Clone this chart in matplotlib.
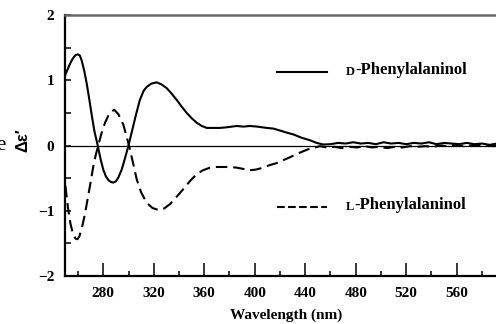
import numpy as np
import matplotlib
matplotlib.use('Agg')
import matplotlib.pyplot as plt
from matplotlib.ticker import MultipleLocator, FixedLocator

# values
wl_d = [250, 252, 254, 256, 258, 260, 261.5, 263, 265, 267, 269, 271, 273, 275.6, 278, 280,
        282, 284, 286, 288, 290, 292, 294.6, 297, 300, 303, 306, 309, 312, 314.4, 318,
        322.3, 326, 330.3, 334, 338.2, 342, 346.1, 350, 354, 358, 362, 367, 372.5, 378,
        385.7, 391, 396.3, 402, 409.5, 414.7, 420, 425, 430.6, 437, 443.8, 449, 454.4,
        460, 466, 472, 478, 484, 490, 496, 502, 508, 514, 520, 526, 532, 538, 544, 550,
        556, 562, 568, 574, 580, 586, 592, 600]
de_d = [1.09, 1.18, 1.27, 1.34, 1.39, 1.40, 1.38, 1.30, 1.14, 0.94, 0.70, 0.45, 0.22, 0.00,
        -0.22, -0.37, -0.47, -0.53, -0.56, -0.57, -0.55, -0.49, -0.37, -0.21, 0.00, 0.24,
        0.48, 0.70, 0.84, 0.90, 0.95, 0.97, 0.94, 0.88, 0.80, 0.70, 0.60, 0.50, 0.42,
        0.35, 0.30, 0.27, 0.27, 0.27, 0.28, 0.30, 0.29, 0.30, 0.29, 0.27, 0.26, 0.23,
        0.20, 0.17, 0.12, 0.08, 0.04, 0.015, 0.02, 0.04, 0.03, 0.05, 0.03, 0.04, 0.02,
        0.05, 0.03, 0.04, 0.02, 0.04, 0.03, 0.05, 0.02, 0.04, 0.03, 0.02, 0.04, 0.02,
        0.03, 0.01, 0.03, 0.02]

wl_l = [250, 252, 254, 256, 258, 259.5, 261, 263, 265.5, 268, 270, 272.1, 274, 276, 278.5,
        281.4, 285, 288.7, 292, 295.9, 300.4, 303.5, 306.5, 310, 314.4, 319, 323.6, 328,
        332.9, 338, 343.4, 349, 354, 359, 364.6, 370, 375.1, 380, 385.7, 391, 396.3, 401,
        406.8, 412, 417.4, 422, 428, 435.7, 442, 448, 451.6, 457, 463, 469, 475, 481,
        487, 493, 499, 505, 511, 517, 523, 529, 535, 541, 547, 553, 559, 565, 571, 577,
        583, 589, 595, 600]
de_l = [-0.62, -0.95, -1.20, -1.36, -1.43, -1.44, -1.40, -1.27, -1.05, -0.78, -0.56, -0.32,
        -0.15, 0.00, 0.18, 0.35, 0.50, 0.55, 0.48, 0.32, 0.00, -0.26, -0.52, -0.72,
        -0.88, -0.96, -0.99, -0.97, -0.90, -0.79, -0.67, -0.54, -0.44, -0.38, -0.34,
        -0.33, -0.33, -0.33, -0.34, -0.36, -0.38, -0.37, -0.34, -0.30, -0.27, -0.23,
        -0.18, -0.11, -0.06, -0.03, -0.01, -0.03, -0.02, -0.04, -0.02, -0.03, -0.01,
        -0.03, -0.02, -0.04, -0.02, -0.03, -0.01, -0.02, -0.01, -0.02, 0.00, -0.01,
        0.01, -0.01, 0.00, 0.01, 0.00, -0.01, 0.00, 0.00]

labels = ['D', 'L']
names = ['-Phenylalaninol', '-Phenylalaninol']

fig = plt.figure(figsize=(4.96, 3.24), dpi=100)
ax = fig.add_axes([65.4 / 496, 48.3 / 324, 441.8 / 496, 260.4 / 324])

serif = 'Liberation Serif'

ax.axhline(0, color='black', lw=0.9, zorder=1)
h_d, = ax.plot(wl_d, de_d, color='black', lw=1.5, solid_joinstyle='round')
h_l, = ax.plot(wl_l, de_l, color='black', lw=1.5, linestyle=(0, (5.5, 2.8)))

ax.set_xlim(250, 600)
ax.set_ylim(-2, 2)
ax.xaxis.set_major_locator(FixedLocator(np.arange(280, 561, 40)))
ax.xaxis.set_minor_locator(FixedLocator(np.arange(260, 581, 40)))
ax.yaxis.set_major_locator(MultipleLocator(1))
ax.yaxis.set_minor_locator(MultipleLocator(0.5))

ax.tick_params(axis='x', which='major', direction='in', length=9.5, width=1.1, pad=8)
ax.tick_params(axis='x', which='minor', direction='in', length=3.8, width=1.1)
ax.tick_params(axis='y', which='both', direction='in', length=4.5, width=1.1, pad=8)
for lab in ax.get_xticklabels() + ax.get_yticklabels():
    lab.set_fontfamily(serif)
    lab.set_fontweight('bold')
    lab.set_fontsize(11)

for side in ['left', 'bottom']:
    ax.spines[side].set_linewidth(1.6)
ax.spines['top'].set_linewidth(1.8)
ax.spines['top'].set_color('0.4')
ax.spines['right'].set_visible(False)

ax.set_xlabel('Wavelength (nm)', fontfamily=serif, fontweight='bold', fontsize=11, labelpad=6)

# y label fragments as in the reference
fig.text(-4 / 496, 1 - 145 / 324, 'e', fontfamily=serif, fontsize=15, ha='left', va='center')
fig.text(23 / 496, 1 - 140 / 324, 'Δε′', fontfamily='Liberation Sans', fontweight='bold',
         fontsize=12, rotation=90, ha='center', va='center')

# key
for h, lab, name, fy in [(h_d, labels[0], names[0], 0.783), (h_l, labels[1], names[1], 0.265)]:
    ax.plot([0.479, 0.592], [fy, fy], transform=ax.transAxes, color='black',
            lw=h.get_linewidth(), linestyle=h.get_linestyle(), clip_on=False)
    t = ax.text(0.635, fy, lab, transform=ax.transAxes, fontfamily=serif, fontweight='bold',
                fontsize=9, ha='left', va='center')
    ax.annotate(name, xy=(1, 0), xycoords=t, fontfamily=serif, fontweight='bold',
                fontsize=12, ha='left', va='bottom')

fig.savefig('out.png', dpi=100)
